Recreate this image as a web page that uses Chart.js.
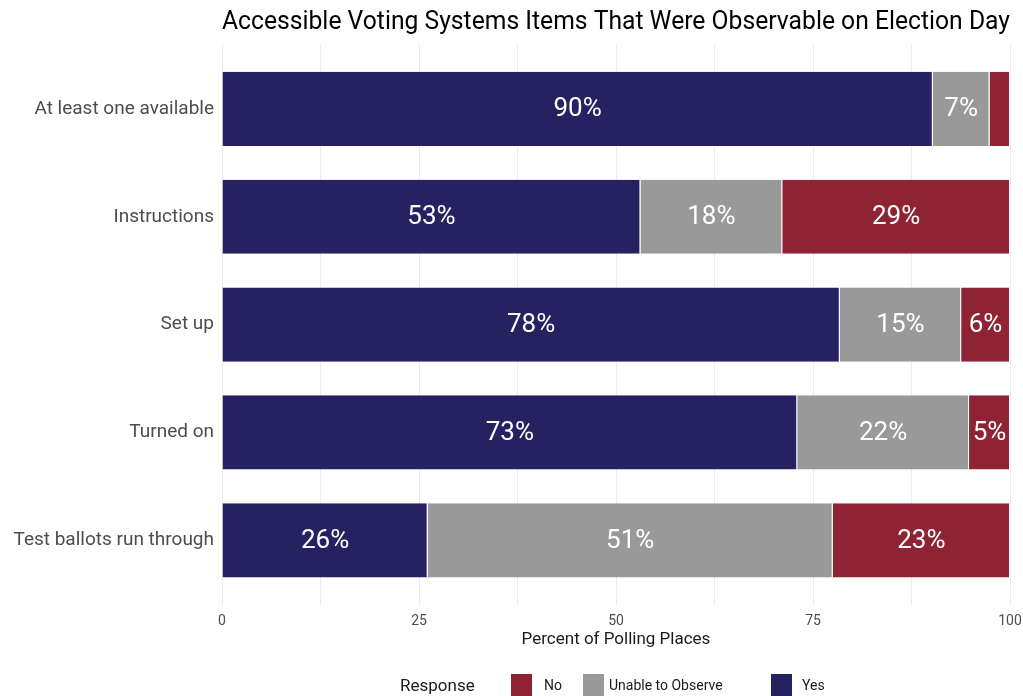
<!DOCTYPE html>
<html>
<head>
<meta charset="utf-8">
<script src="https://cdn.jsdelivr.net/npm/chart.js@4"></script>
<style>
  body { margin: 0; background: #fff; font-family: Roboto, sans-serif; }
  #wrap { position: relative; width: 1023px; height: 696px; }
  #legend { position: absolute; left: 0; top: 674px; width: 1023px; height: 22px; font-size: 14px; color: #1a1a1a; }
  #legend .ttl { position: absolute; top: 1px; font-size: 17px; }
  #legend .box { position: absolute; top: 0; width: 21px; height: 22px; }
  #legend .lbl { position: absolute; top: 3px; }
</style>
</head>
<body>
<div id="wrap">
  <canvas id="votingChart" width="1023" height="696"></canvas>
  <div id="legend"></div>
</div>
<script>
const categories = ["At least one available", "Instructions", "Set up", "Turned on", "Test ballots run through"];
const yesValues = [90.2, 53.1, 78.4, 73.0, 26.1];
const unableValues = [7.2, 18.0, 15.4, 21.8, 51.4];
const noValues = [2.6, 28.9, 6.2, 5.2, 22.5];
const xTicks = [0, 25, 50, 75, 100];

const colors = { yes: "#262262", unable: "#999999", no: "#8e2433" };

// draws the percent labels inside each segment
const segmentLabels = {
    id: "segmentLabels",
    afterDatasetsDraw(chart) {
        const ctx = chart.ctx;
        ctx.save();
        ctx.font = "26px Roboto, sans-serif";
        ctx.fillStyle = "#ffffff";
        ctx.textAlign = "center";
        ctx.textBaseline = "middle";
        chart.data.datasets.forEach((ds, i) => {
            const meta = chart.getDatasetMeta(i);
            meta.data.forEach((bar, j) => {
                const v = ds.data[j];
                if (v < 4) return;
                const cx = (bar.x + bar.base) / 2;
                ctx.fillText(Math.round(v) + "%", cx, bar.y + 1);
            });
        });
        ctx.restore();
    }
};

const chart = new Chart(document.getElementById("votingChart"), {
    type: "bar",
    data: {
        labels: categories,
        datasets: [
            { label: "Yes", data: yesValues, backgroundColor: colors.yes },
            { label: "Unable to Observe", data: unableValues, backgroundColor: colors.unable },
            { label: "No", data: noValues, backgroundColor: colors.no }
        ]
    },
    options: {
        indexAxis: "y",
        responsive: false,
        animation: false,
        layout: { padding: { left: 0, right: 13, top: 0, bottom: 46 } },
        datasets: {
            bar: {
                categoryPercentage: 1,
                barPercentage: 0.688,
                borderColor: "#ffffff",
                borderWidth: { left: 0, right: 1, top: 0, bottom: 0 },
                borderSkipped: false
            }
        },
        plugins: {
            legend: { display: false },
            tooltip: { enabled: false },
            title: {
                display: true,
                fullSize: false,
                text: "Accessible Voting Systems Items That Were Observable on Election Day",
                color: "#000000",
                font: { family: "Roboto", size: 26, weight: "normal" },
                padding: { top: 7, bottom: 6 }
            }
        },
        scales: {
            x: {
                stacked: true,
                min: 0,
                max: 100,
                border: { display: false },
                grid: { color: "#ebebeb", drawTicks: false },
                ticks: {
                    stepSize: 12.5,
                    autoSkip: false,
                    maxRotation: 0,
                    padding: 8,
                    color: "#4d4d4d",
                    font: { family: "Roboto", size: 14 },
                    callback: (v) => xTicks.includes(v) ? String(v) : ""
                },
                title: {
                    display: true,
                    text: "Percent of Polling Places",
                    color: "#1a1a1a",
                    font: { family: "Roboto", size: 17 },
                    padding: { top: 4, bottom: 0 }
                },
                afterFit: (scale) => {
                    scale.height = 45;
                    scale.paddingLeft = 0;
                    scale.paddingRight = 0;
                }
            },
            y: {
                stacked: true,
                border: { display: false },
                grid: { display: false, drawTicks: false },
                ticks: {
                    padding: 8,
                    color: "#4d4d4d",
                    font: { family: "Roboto", size: 19 }
                },
                afterFit: (scale) => {
                    scale.width = 222;
                    // ggplot style: 0.6 category units of space at both ends
                    scale._startValue = -0.6;
                    scale._valueRange = categories.length - 1 + 1.2;
                }
            }
        }
    },
    plugins: [segmentLabels]
});

// legend below the chart, order reversed like the original
const legend = document.getElementById("legend");
const legendItems = [
    { label: "No", color: colors.no, box: 511, text: 544 },
    { label: "Unable to Observe", color: colors.unable, box: 583, text: 609 },
    { label: "Yes", color: colors.yes, box: 771, text: 802 }
];
legend.innerHTML = '<span class="ttl" style="left:400px">Response</span>' +
    legendItems.map(it =>
        `<span class="box" style="left:${it.box}px;background:${it.color}"></span>` +
        `<span class="lbl" style="left:${it.text}px">${it.label}</span>`
    ).join("");
</script>
</body>
</html>
